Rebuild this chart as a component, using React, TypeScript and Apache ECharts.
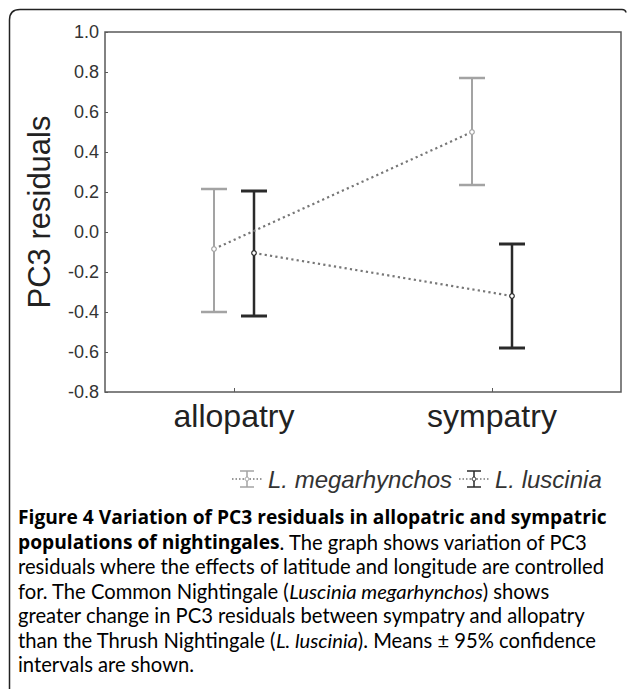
import React, { useEffect, useRef } from "react";
import * as echarts from "echarts";

const categories = ["allopatry", "sympatry"];
const yMin = -0.8;
const yMax = 1.0;
const yInterval = 0.2;

const megMean = [-0.085, 0.5];
const megLow = [-0.4, 0.235];
const megHigh = [0.215, 0.77];

const lusMean = [-0.105, -0.32];
const lusLow = [-0.42, -0.58];
const lusHigh = [0.205, -0.06];

const speciesNames = ["L. megarhynchos", "L. luscinia"];
const speciesColors = ["#a3a3a3", "#2a2a2a"];
const lineColor = "#777777";

const captionLines: [string, string][][] = [
  [["b", "Figure 4 Variation of PC3 residuals in allopatric and sympatric"]],
  [["b", "populations of nightingales"], ["n", ". The graph shows variation of PC3"]],
  [["n", "residuals where the effects of latitude and longitude are controlled"]],
  [["n", "for. The Common Nightingale ("], ["i", "Luscinia megarhynchos"], ["n", ") shows"]],
  [["n", "greater change in PC3 residuals between sympatry and allopatry"]],
  [["n", "than the Thrush Nightingale ("], ["i", "L. luscinia"], ["n", "). Means ± 95% confidence"]],
  [["n", "intervals are shown."]],
];

echarts.graphic.registerShape(
  "frame",
  echarts.graphic.extendPath("M9.5 689 L9.5 20 Q9.5 9.5 20 9.5 L622 9.5 Q625.5 9.5 626 12.5", {})
);

function makeErrorSeries(name: string, means: number[], lows: number[], highs: number[], color: string, offset: number, barWidth: number) {
  const data = means.map((m, i) => [i, m, lows[i], highs[i]]);
  return {
    type: "custom",
    name,
    data,
    renderItem: (params: any, api: any) => {
      const idx = params.dataIndex;
      const cat = api.value(0);
      const pm = api.coord([cat, api.value(1)]);
      const pl = api.coord([cat, api.value(2)]);
      const ph = api.coord([cat, api.value(3)]);
      const x = pm[0] + offset;
      const cap = 13;
      const children: any[] = [
        { type: "line", z2: 1, shape: { x1: x, y1: ph[1], x2: x, y2: pl[1] }, style: { stroke: color, lineWidth: barWidth } },
        { type: "line", z2: 1, shape: { x1: x - cap, y1: ph[1], x2: x + cap, y2: ph[1] }, style: { stroke: color, lineWidth: barWidth + 0.5 } },
        { type: "line", z2: 1, shape: { x1: x - cap, y1: pl[1], x2: x + cap, y2: pl[1] }, style: { stroke: color, lineWidth: barWidth + 0.5 } },
      ];
      if (idx < means.length - 1) {
        const pn = api.coord([idx + 1, means[idx + 1]]);
        children.push({
          type: "line",
          z2: 5,
          shape: { x1: x, y1: pm[1], x2: pn[0] + offset, y2: pn[1] },
          style: { stroke: lineColor, lineWidth: 2.2, lineDash: [2.2, 3.2] },
        });
      }
      children.push({
        type: "circle",
        z2: 10,
        shape: { cx: x, cy: pm[1], r: 2.3 },
        style: { fill: "#fff", stroke: color, lineWidth: 1.2 },
      });
      return { type: "group", children };
    },
  };
}

function legendIcon(x: number, y: number, color: string) {
  return {
    type: "group",
    x,
    y,
    children: [
      { type: "line", shape: { x1: -15, y1: 0, x2: 15, y2: 0 }, style: { stroke: lineColor, lineWidth: 1.5, lineDash: [1.5, 2] } },
      { type: "line", shape: { x1: 0, y1: -8, x2: 0, y2: 8 }, style: { stroke: color, lineWidth: 1.5 } },
      { type: "line", shape: { x1: -7, y1: -8, x2: 7, y2: -8 }, style: { stroke: color, lineWidth: 1.5 } },
      { type: "line", shape: { x1: -7, y1: 8, x2: 7, y2: 8 }, style: { stroke: color, lineWidth: 1.5 } },
      { type: "circle", shape: { cx: 0, cy: 0, r: 2 }, style: { fill: "#fff", stroke: color, lineWidth: 1 } },
    ],
  };
}

export default function App() {
  const ref = useRef<HTMLDivElement>(null);
  useEffect(() => {
    if (!ref.current) return;
    const chart = echarts.init(ref.current, null, { renderer: "svg" });
    const fs = 20.2;
    const rich = {
      b: { fontFamily: "Open Sans", fontWeight: "bold", fontSize: 19.2, color: "#1a1a1a" },
      n: { fontFamily: "Lato", fontWeight: "normal", fontSize: fs, color: "#3a3a3a" },
      i: { fontFamily: "Lato", fontStyle: "italic", fontWeight: "normal", fontSize: fs, color: "#3a3a3a" },
    };
    const captionGraphics = captionLines.map((segs, i) => ({
      type: "text",
      left: 18,
      top: 507 + i * 24.5,
      style: {
        text: segs.map(([k, t]) => `{${k}|${t}}`).join(""),
        rich,
      },
    }));
    const legendX = [247, 474];
    const legendGraphics: any[] = [];
    speciesNames.forEach((n, i) => {
      legendGraphics.push(legendIcon(legendX[i], 479, speciesColors[i]));
      legendGraphics.push({
        type: "text",
        x: legendX[i] + 21,
        y: 479,
        style: {
          text: n,
          fontFamily: "Liberation Sans",
          fontStyle: "italic",
          fontSize: 24,
          fill: "#333",
          verticalAlign: "middle",
          align: "left",
        },
      });
    });

    chart.setOption({
      animation: false,
      grid: {
        left: 105,
        top: 32,
        width: 516,
        height: 360,
        show: true,
        borderColor: "#5a5a5a",
        borderWidth: 1.5,
      },
      xAxis: {
        type: "category",
        data: categories,
        boundaryGap: true,
        axisLine: { show: false, onZero: false },
        axisTick: { show: true, inside: true, alignWithLabel: true, length: 4, lineStyle: { color: "#5a5a5a" } },
        axisLabel: { fontFamily: "Liberation Sans", fontSize: 32, color: "#222", margin: 8 },
        splitLine: { show: false },
      },
      yAxis: {
        type: "value",
        min: yMin,
        max: yMax,
        interval: yInterval,
        name: "PC3 residuals",
        nameLocation: "middle",
        nameGap: 50,
        nameTextStyle: { fontFamily: "Liberation Sans", fontSize: 31, color: "#222" },
        axisLine: { show: false },
        axisTick: { show: true, inside: true, length: 3, lineStyle: { color: "#5a5a5a" } },
        axisLabel: {
          fontFamily: "Liberation Sans",
          fontSize: 18,
          color: "#333",
          margin: 6,
          formatter: (v: number) => v.toFixed(1),
        },
        splitLine: { show: false },
      },
      graphic: [
        { type: "frame", x: 0, y: 0, style: { fill: "none", stroke: "#222", lineWidth: 1.5 } },
        ...legendGraphics,
        ...captionGraphics,
      ],
      series: [
        makeErrorSeries(speciesNames[0], megMean, megLow, megHigh, speciesColors[0], -20, 2),
        makeErrorSeries(speciesNames[1], lusMean, lusLow, lusHigh, speciesColors[1], 20, 2.5),
      ],
    });
    return () => chart.dispose();
  }, []);
  return <div ref={ref} style={{ position: "absolute", left: 0, top: 0, width: 627, height: 689 }} />;
}
